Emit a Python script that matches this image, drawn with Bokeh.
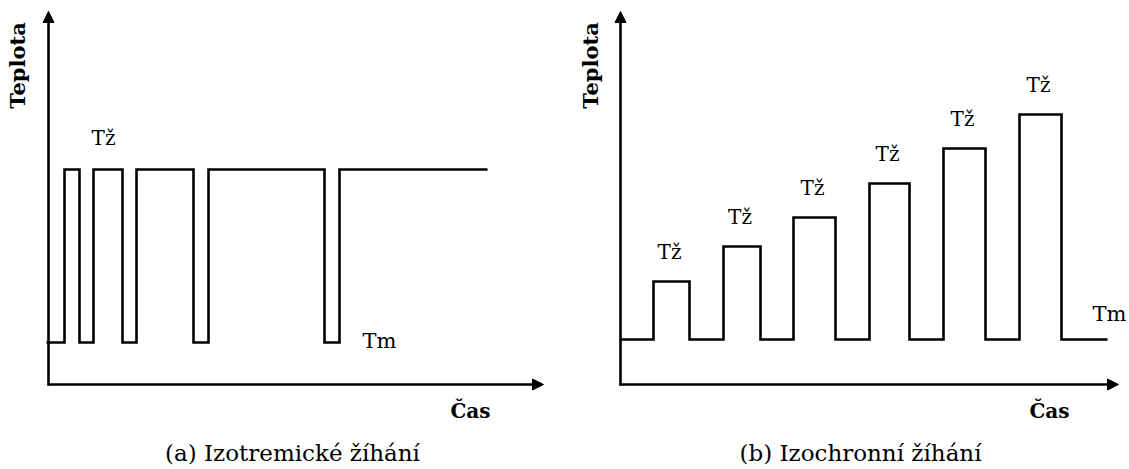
from math import pi
from bokeh.plotting import figure
from bokeh.layouts import row
from bokeh.models import Range1d, Arrow, NormalHead, ColumnDataSource
from bokeh.core.properties import value
from bokeh.embed import file_html
from bokeh.resources import INLINE

# ---------------- data (schematic units) ----------------
# (a) isothermal annealing: switching times between Tm and Tz
left_times = [-2, 16, 31, 45, 74, 88, 145, 160, 276, 291, 439]
left_levels = ["Tm", "Tz", "Tm", "Tz", "Tm", "Tz", "Tm", "Tz", "Tm", "Tz", "Tz"]
left_Tz = 215
left_Tm = 42

# (b) isochronal annealing: pulses (start, end, annealing temperature)
right_pulse_start = [33, 103, 173, 249, 323, 399]
right_pulse_end = [69, 140, 215, 289, 365, 441]
right_pulse_T = [103, 138, 167, 201, 236, 270]
right_Tm = 45
right_t_start = 0
right_t_end = 487

axis_x_len = [495, 498]
axis_y_len = 373

y_label = "Teplota"
x_label = "Čas"
captions = ["(a) Izotremické žíhání", "(b) Izochronní žíhání"]
tz_text = "Tž"
tm_text = "Tm"

SERIF = "DejaVu Serif"
LW = 2.6
H = 469


def make_fig(width, x_start):
    p = figure(width=width, height=H, output_backend="svg", toolbar_location=None,
               x_axis_location=None, y_axis_location=None,
               x_range=Range1d(x_start, x_start + width), y_range=Range1d(384 - H, 384),
               min_border=0, background_fill_color="white", border_fill_color="white")
    p.outline_line_color = None
    p.grid.visible = False
    return p


def add_axes(p, xlen, lab_y_x, cas_x, cap_x, caption):
    p.add_layout(Arrow(end=NormalHead(size=11, fill_color="black", line_color="black", line_width=1),
                       x_start=0, y_start=-1, x_end=0, y_end=axis_y_len,
                       line_width=LW, line_color="black"))
    p.add_layout(Arrow(end=NormalHead(size=11, fill_color="black", line_color="black", line_width=1),
                       x_start=-1, y_start=0, x_end=xlen, y_end=0,
                       line_width=LW, line_color="black"))
    p.text(x=[lab_y_x], y=[319], text=[y_label], angle=pi / 2, text_align="center",
           text_baseline="middle", text_font=value(SERIF), text_font_style="bold",
           text_font_size="21px", text_color="black")
    p.text(x=[cas_x], y=[-26], text=[x_label], text_align="center", text_baseline="middle",
           text_font=value(SERIF), text_font_style="bold", text_font_size="20px",
           text_color="black")
    p.text(x=[cap_x], y=[-68], text=[caption], text_align="center", text_baseline="middle",
           text_font=value(SERIF), text_font_size="23px", text_color="black")


# ---------------- (a) ----------------
p1 = make_fig(564, -48)
ly = [left_Tz if l == "Tz" else left_Tm for l in left_levels]
p1.step(x=left_times, y=ly, mode="after", line_width=LW, line_color="black", line_join="miter")
add_axes(p1, axis_x_len[0], -31, 422, 244, captions[0])
p1.text(x=[55], y=[left_Tz + 32], text=[tz_text], text_align="center", text_baseline="middle",
        text_font=value(SERIF), text_font_size="20px", text_color="black")
p1.text(x=[314], y=[left_Tm + 2], text=[tm_text], text_align="left", text_baseline="middle",
        text_font=value(SERIF), text_font_size="21px", text_color="black")

# ---------------- (b) ----------------
p2 = make_fig(565, -56)
xs = [right_t_start]
ys = [right_Tm]
for s, e, T in zip(right_pulse_start, right_pulse_end, right_pulse_T):
    xs += [s, s, e, e]
    ys += [right_Tm, T, T, right_Tm]
xs.append(right_t_end)
ys.append(right_Tm)
p2.line(x=xs, y=ys, line_width=LW, line_color="black", line_join="miter")
add_axes(p2, axis_x_len[1], -30, 429, 240, captions[1])
src = ColumnDataSource(dict(
    x=[(s + e) / 2 - 2 for s, e in zip(right_pulse_start, right_pulse_end)],
    y=[T + 30 for T in right_pulse_T],
    t=[tz_text] * len(right_pulse_T)))
p2.text(x="x", y="y", text="t", source=src, text_align="center", text_baseline="middle",
        text_font=value(SERIF), text_font_size="20px", text_color="black")
p2.text(x=[472], y=[right_Tm + 26], text=[tm_text], text_align="left", text_baseline="middle",
        text_font=value(SERIF), text_font_size="21px", text_color="black")

layout = row(p1, p2, spacing=0)
open("out.html", "w").write(file_html(layout, INLINE))
